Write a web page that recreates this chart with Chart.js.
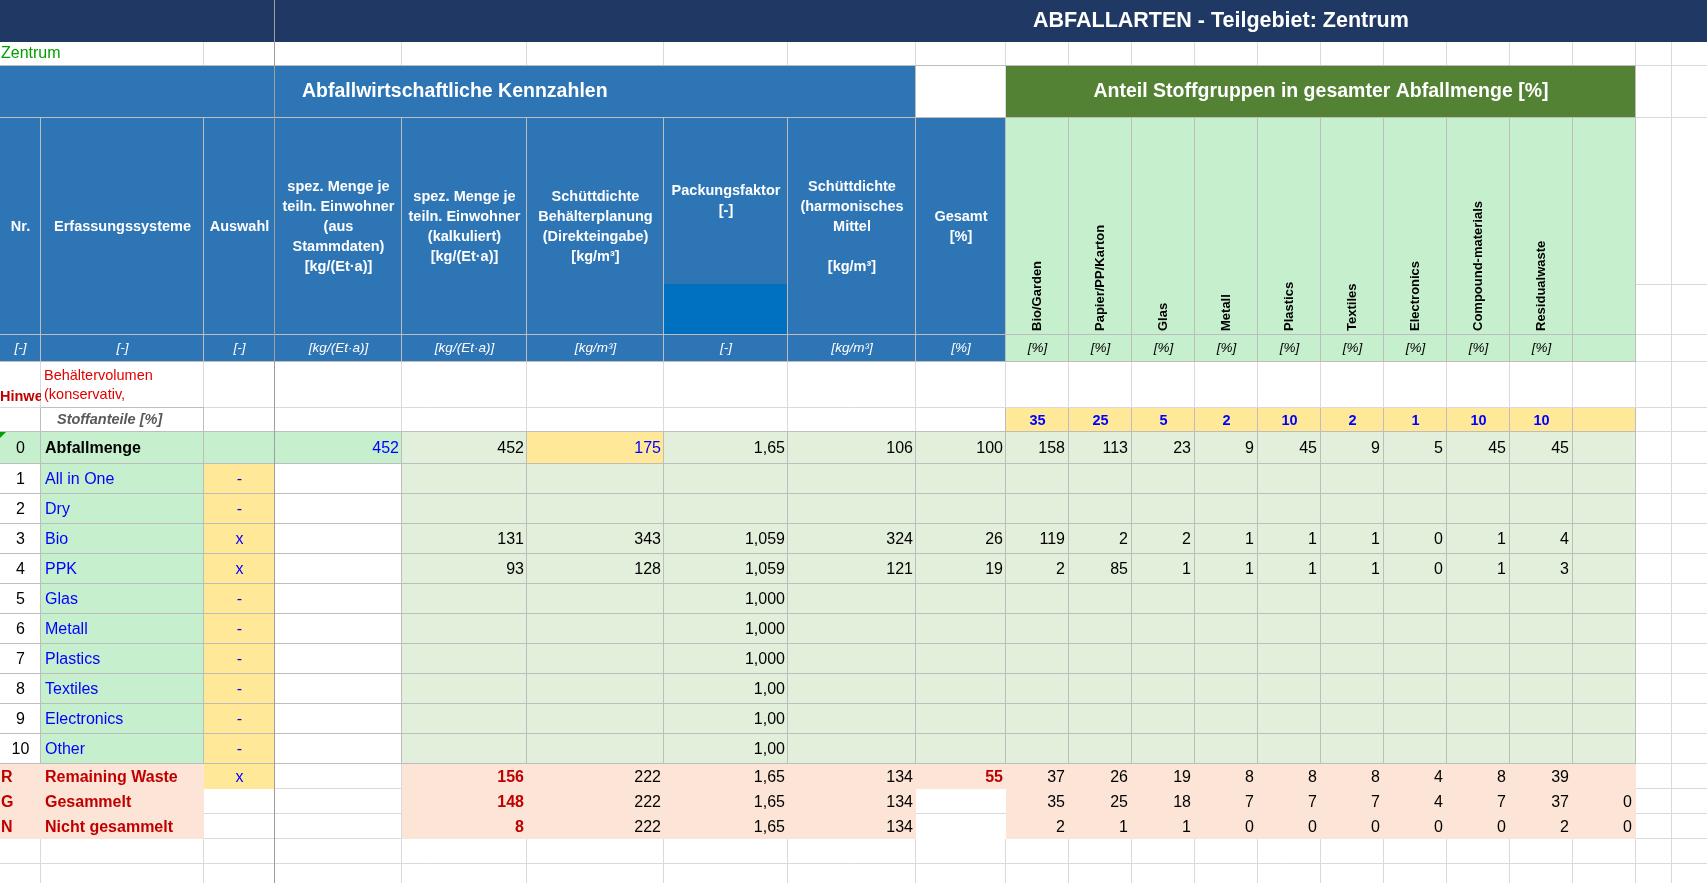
<!DOCTYPE html>
<html lang="de">
<head>
<meta charset="UTF-8">
<title>Abfallarten - Teilgebiet: Zentrum</title>
<script src="https://cdn.jsdelivr.net/npm/chart.js"></script>
<style>
    html, body { margin: 0; padding: 0; background: #fff; overflow: hidden; }
    #wrap { width: 1707px; height: 883px; position: relative; }
</style>
<script>
// ---- Werte aus der Tabelle ----
const sheetTitle = 'ABFALLARTEN - Teilgebiet: Zentrum';
const teilgebiet = 'Zentrum';

const materials = ['Bio/Garden', 'Papier/PP/Karton', 'Glas', 'Metall', 'Plastics', 'Textiles', 'Electronics', 'Compound-materials', 'Residualwaste'];
const stoffanteile = [35, 25, 5, 2, 10, 2, 1, 10, 10];

// Zeile 0: Abfallmenge (Spalten spez. Menge Stamm, kalk., Schüttdichte, Packung, harm. Mittel, Gesamt)
const abfallmengeWerte = [452, 452, 175, '1,65', 106, 100];
const abfallmengeStoffe = [158, 113, 23, 9, 45, 9, 5, 45, 45];

// Zeilen 1-10: Erfassungssysteme
const systemNames = ['All in One', 'Dry', 'Bio', 'PPK', 'Glas', 'Metall', 'Plastics', 'Textiles', 'Electronics', 'Other'];
const systemAuswahl = ['-', '-', 'x', 'x', '-', '-', '-', '-', '-', '-'];
const mengeKalk = [null, null, 131, 93, null, null, null, null, null, null];
const dichtePlanung = [null, null, 343, 128, null, null, null, null, null, null];
const packungsfaktor = [null, null, '1,059', '1,059', '1,000', '1,000', '1,000', '1,00', '1,00', '1,00'];
const dichteHarm = [null, null, 324, 121, null, null, null, null, null, null];
const anteilGesamt = [null, null, 26, 19, null, null, null, null, null, null];
const stoffeBio = [119, 2, 2, 1, 1, 1, 0, 1, 4];
const stoffePPK = [2, 85, 1, 1, 1, 1, 0, 1, 3];
const systemStoffe = [null, null, stoffeBio, stoffePPK, null, null, null, null, null, null];

// Summenzeilen R / G / N
const sumCodes = ['R', 'G', 'N'];
const sumNames = ['Remaining Waste', 'Gesammelt', 'Nicht gesammelt'];
const sumAuswahl = ['x', null, null];
const sumMenge = [156, 148, 8];
const sumDichte = [222, 222, 222];
const sumPackung = ['1,65', '1,65', '1,65'];
const sumHarm = [134, 134, 134];
const sumGesamt = [55, null, null];
const stoffeR = [37, 26, 19, 8, 8, 8, 4, 8, 39, null];
const stoffeG = [35, 25, 18, 7, 7, 7, 4, 7, 37, 0];
const stoffeN = [2, 1, 1, 0, 0, 0, 0, 0, 2, 0];
const sumStoffe = [stoffeR, stoffeG, stoffeN];

// Kopfzeilen-Texte
const headerLines = [
    ['Nr.'],
    ['Erfassungssysteme'],
    ['Auswahl'],
    ['spez. Menge je', 'teiln. Einwohner', '(aus', 'Stammdaten)', '[kg/(Et·a)]'],
    ['spez. Menge je', 'teiln. Einwohner', '(kalkuliert)', '[kg/(Et·a)]'],
    ['Schüttdichte', 'Behälterplanung', '(Direkteingabe)', '[kg/m³]'],
    ['Packungsfaktor', '[-]'],
    ['Schüttdichte', '(harmonisches', 'Mittel', '', '[kg/m³]'],
    ['Gesamt', '[%]']
];
const unitLabels = ['[-]', '[-]', '[-]', '[kg/(Et·a)]', '[kg/(Et·a)]', '[kg/m³]', '[-]', '[kg/m³]', '[%]'];

// ---- Raster (Spalten-/Zeilengrenzen in Blatt-Einheiten) ----
const colEdges = [0, 41, 204, 275, 402, 527, 664, 788, 916, 1006, 1069, 1132, 1195, 1258, 1321, 1384, 1447, 1510, 1573, 1636, 1672, 1707];
const rowEdges = [0, 42, 66, 118, 335, 362, 408, 432, 464, 494, 524, 554, 584, 614, 644, 674, 704, 734, 764, 789, 814, 839, 864, 883];

const NAVY = '#203864', BLUE = '#2E75B6', DARKBLUE = '#0070C0', GREEN = '#548235';
const LGREEN = '#C6EFCE', PGREEN = '#E2EFDA', YELLOW = '#FFE999', PEACH = '#FCE4D6';
const GRID = '#DADADA', BORDER = '#BDBDBD', FREEZE = '#9E9E9E', RED = '#C00000', BLUETXT = '#0000FF';
const FF = '"Liberation Sans", Arial, sans-serif';

const sheetPlugin = {
    id: 'sheet',
    afterDraw(chart) {
        const ctx = chart.ctx;
        const xs = chart.scales.x, ys = chart.scales.y;
        const X = c => xs.getPixelForValue(colEdges[c]);
        const Y = r => ys.getPixelForValue(rowEdges[r]);
        const CX = c => (X(c) + X(c + 1)) / 2;
        const CY = (r, d) => (Y(r) + Y(r + 1)) / 2 + (d || 0);

        function fill(c0, c1, r0, r1, color) {
            ctx.fillStyle = color;
            ctx.fillRect(X(c0), Y(r0), X(c1) - X(c0), Y(r1) - Y(r0));
        }
        function vline(c, r0, r1, color) {
            const x = Math.round(X(c)) - 0.5;
            ctx.strokeStyle = color; ctx.lineWidth = 1;
            ctx.beginPath(); ctx.moveTo(x, Y(r0)); ctx.lineTo(x, Y(r1)); ctx.stroke();
        }
        function hline(r, c0, c1, color) {
            const y = Math.round(Y(r)) - 0.5;
            ctx.strokeStyle = color; ctx.lineWidth = 1;
            ctx.beginPath(); ctx.moveTo(X(c0), y); ctx.lineTo(X(c1), y); ctx.stroke();
        }
        function txt(s, x, y, font, color, align) {
            if (s === null || s === undefined) return;
            ctx.font = font; ctx.fillStyle = color;
            ctx.textAlign = align || 'left'; ctx.textBaseline = 'middle';
            ctx.fillText(String(s), x, y);
        }
        const right = (c, pad) => X(c + 1) - (pad || 4);
        const left = (c, pad) => X(c) + (pad || 4);

        ctx.save();
        // Hintergrund + Excel-Gitter
        ctx.fillStyle = '#fff';
        ctx.fillRect(0, 0, chart.width, chart.height);
        for (let c = 1; c < colEdges.length - 1; c++) vline(c, c === 1 ? 2 : 1, rowEdges.length - 1, GRID);
        for (let r = 1; r < rowEdges.length - 1; r++) hline(r, 0, colEdges.length - 1, GRID);
        ctx.strokeStyle = GRID;
        ctx.beginPath();
        ctx.moveTo(X(19), Math.round(ys.getPixelForValue(285)) - 0.5);
        ctx.lineTo(X(21), Math.round(ys.getPixelForValue(285)) - 0.5);
        ctx.stroke();

        // Flächen
        fill(0, 21, 0, 1, NAVY);
        fill(0, 8, 2, 3, BLUE);
        fill(9, 19, 2, 3, GREEN);
        fill(0, 9, 3, 5, BLUE);
        fill(9, 19, 3, 5, LGREEN);
        ctx.fillStyle = DARKBLUE;
        ctx.fillRect(X(6), ys.getPixelForValue(284), X(7) - X(6), Y(4) - ys.getPixelForValue(284));
        fill(9, 19, 6, 7, YELLOW);
        // Zeile 0
        fill(0, 4, 7, 8, LGREEN);
        fill(4, 5, 7, 8, PGREEN);
        fill(5, 6, 7, 8, YELLOW);
        fill(6, 19, 7, 8, PGREEN);
        // Zeilen 1-10
        fill(1, 2, 8, 18, LGREEN);
        fill(2, 3, 8, 18, YELLOW);
        fill(4, 19, 8, 18, PGREEN);
        // R / G / N
        fill(0, 2, 18, 21, PEACH);
        fill(2, 3, 18, 19, YELLOW);
        fill(4, 19, 18, 21, PEACH);
        fill(8, 9, 19, 21, '#fff');
        hline(20, 8, 9, GRID);

        // Rahmenlinien
        for (let c = 1; c <= 19; c++) vline(c, 3, 5, BORDER);
        [3, 4, 5].forEach(r => hline(r, 0, 19, BORDER));
        hline(2, 0, 19, BORDER);
        vline(8, 2, 3, BORDER);
        vline(19, 2, 3, BORDER);
        for (let c = 9; c <= 19; c++) vline(c, 6, 7, BORDER);
        vline(1, 6, 7, BORDER); vline(2, 6, 7, BORDER); hline(6, 1, 2, BORDER);
        for (let c = 1; c <= 19; c++) vline(c, 7, 18, BORDER);
        for (let r = 7; r <= 18; r++) hline(r, 0, 19, BORDER);
        vline(3, 0, rowEdges.length - 1, FREEZE);

        // Titel
        txt(sheetTitle, xs.getPixelForValue(1033), CY(0), 'bold 21.5px ' + FF, '#fff', 'left');
        txt(teilgebiet, 1, CY(1), '16px ' + FF, '#00A000', 'left');
        txt('Abfallwirtschaftliche Kennzahlen', xs.getPixelForValue(302), CY(2), 'bold 19.5px ' + FF, '#fff', 'left');
        txt('Anteil Stoffgruppen in gesamter Abfallmenge [%]', (X(9) + X(19)) / 2, CY(2), 'bold 19.5px ' + FF, '#fff', 'center');

        // Spaltenköpfe
        headerLines.forEach((lines, c) => {
            const yc = c === 6 ? (Y(3) + ys.getPixelForValue(284)) / 2 : CY(3);
            const y0 = yc - (lines.length - 1) * 10;
            lines.forEach((l, i) => txt(l, CX(c), y0 + i * 20, 'bold 14.5px ' + FF, '#fff', 'center'));
        });
        materials.forEach((m, i) => {
            ctx.save();
            ctx.translate(CX(9 + i), ys.getPixelForValue(331));
            ctx.rotate(-Math.PI / 2);
            txt(m, 0, 0, 'bold 13px ' + FF, '#000', 'left');
            ctx.restore();
        });
        unitLabels.forEach((u, c) => txt(u, CX(c), CY(4), 'italic 13.5px ' + FF, '#fff', 'center'));
        materials.forEach((m, i) => txt('[%]', CX(9 + i), CY(4), 'italic 13.5px ' + FF, '#000', 'center'));

        // Hinweis-Zeile
        ctx.save();
        ctx.beginPath(); ctx.rect(0, Y(5), X(1), Y(6) - Y(5)); ctx.clip();
        txt('Hinweis', 0, ys.getPixelForValue(397), 'bold 14.5px ' + FF, RED, 'left');
        ctx.restore();
        ctx.save();
        ctx.beginPath(); ctx.rect(X(1), Y(5), X(2) - X(1), Y(6) - Y(5)); ctx.clip();
        txt('Behältervolumen', left(1, 3), ys.getPixelForValue(376), '14.5px ' + FF, '#E00000', 'left');
        txt('(konservativ,', left(1, 3), ys.getPixelForValue(395), '14.5px ' + FF, '#E00000', 'left');
        ctx.restore();

        // Stoffanteile
        txt('Stoffanteile [%]', left(1, 16), CY(6), 'italic bold 14.5px ' + FF, '#595959', 'left');
        stoffanteile.forEach((v, i) => txt(v, CX(9 + i), CY(6, 1), 'bold 14.5px ' + FF, BLUETXT, 'center'));

        // Zeile 0
        const F = '16px ' + FF;
        txt('0', CX(0), CY(7, 1), F, '#000', 'center');
        txt('Abfallmenge', left(1), CY(7, 1), 'bold 16px ' + FF, '#000', 'left');
        const row0Colors = [BLUETXT, '#000', BLUETXT, '#000', '#000', '#000'];
        abfallmengeWerte.forEach((v, i) => txt(v, right(3 + i, 3), CY(7, 1), F, row0Colors[i], 'right'));
        abfallmengeStoffe.forEach((v, i) => txt(v, right(9 + i), CY(7, 1), F, '#000', 'right'));
        ctx.fillStyle = '#00A000';
        ctx.beginPath(); ctx.moveTo(0, Y(7)); ctx.lineTo(6, Y(7)); ctx.lineTo(0, Y(7) + 6); ctx.fill();

        // Zeilen 1-10
        systemNames.forEach((name, i) => {
            const r = 8 + i, y = CY(r, 1);
            txt(i + 1, CX(0), y, F, '#000', 'center');
            txt(name, left(1), y, F, BLUETXT, 'left');
            txt(systemAuswahl[i], CX(2), y, F, BLUETXT, 'center');
            txt(mengeKalk[i], right(4, 3), y, F, '#000', 'right');
            txt(dichtePlanung[i], right(5, 3), y, F, '#000', 'right');
            txt(packungsfaktor[i], right(6, 3), y, F, '#000', 'right');
            txt(dichteHarm[i], right(7, 3), y, F, '#000', 'right');
            txt(anteilGesamt[i], right(8, 3), y, F, '#000', 'right');
            if (systemStoffe[i]) systemStoffe[i].forEach((v, k) => txt(v, right(9 + k), y, F, '#000', 'right'));
        });

        // R / G / N
        const FB = 'bold 16px ' + FF;
        sumCodes.forEach((code, i) => {
            const r = 18 + i, y = CY(r, 1);
            txt(code, 1, y, FB, RED, 'left');
            txt(sumNames[i], left(1), y, FB, RED, 'left');
            txt(sumAuswahl[i], CX(2), y, F, BLUETXT, 'center');
            txt(sumMenge[i], right(4, 3), y, FB, RED, 'right');
            txt(sumDichte[i], right(5, 3), y, F, '#000', 'right');
            txt(sumPackung[i], right(6, 3), y, F, '#000', 'right');
            txt(sumHarm[i], right(7, 3), y, F, '#000', 'right');
            txt(sumGesamt[i], right(8, 3), y, FB, RED, 'right');
            sumStoffe[i].forEach((v, k) => txt(v, right(9 + k), y, F, '#000', 'right'));
        });
        ctx.restore();
    }
};

window.addEventListener('load', function () {
    new Chart(document.getElementById('sheet'), {
        type: 'scatter',
        data: { datasets: [{ data: [] }] },
        options: {
            responsive: true,
            maintainAspectRatio: false,
            animation: false,
            layout: { padding: 0 },
            scales: {
                x: { type: 'linear', min: 0, max: 1707, display: false },
                y: { type: 'linear', min: 0, max: 883, reverse: true, display: false }
            },
            plugins: {
                legend: { display: false },
                tooltip: { enabled: false }
            }
        },
        plugins: [sheetPlugin]
    });
});
</script>
</head>
<body>
<div id="wrap"><canvas id="sheet"></canvas></div>
</body>
</html>
